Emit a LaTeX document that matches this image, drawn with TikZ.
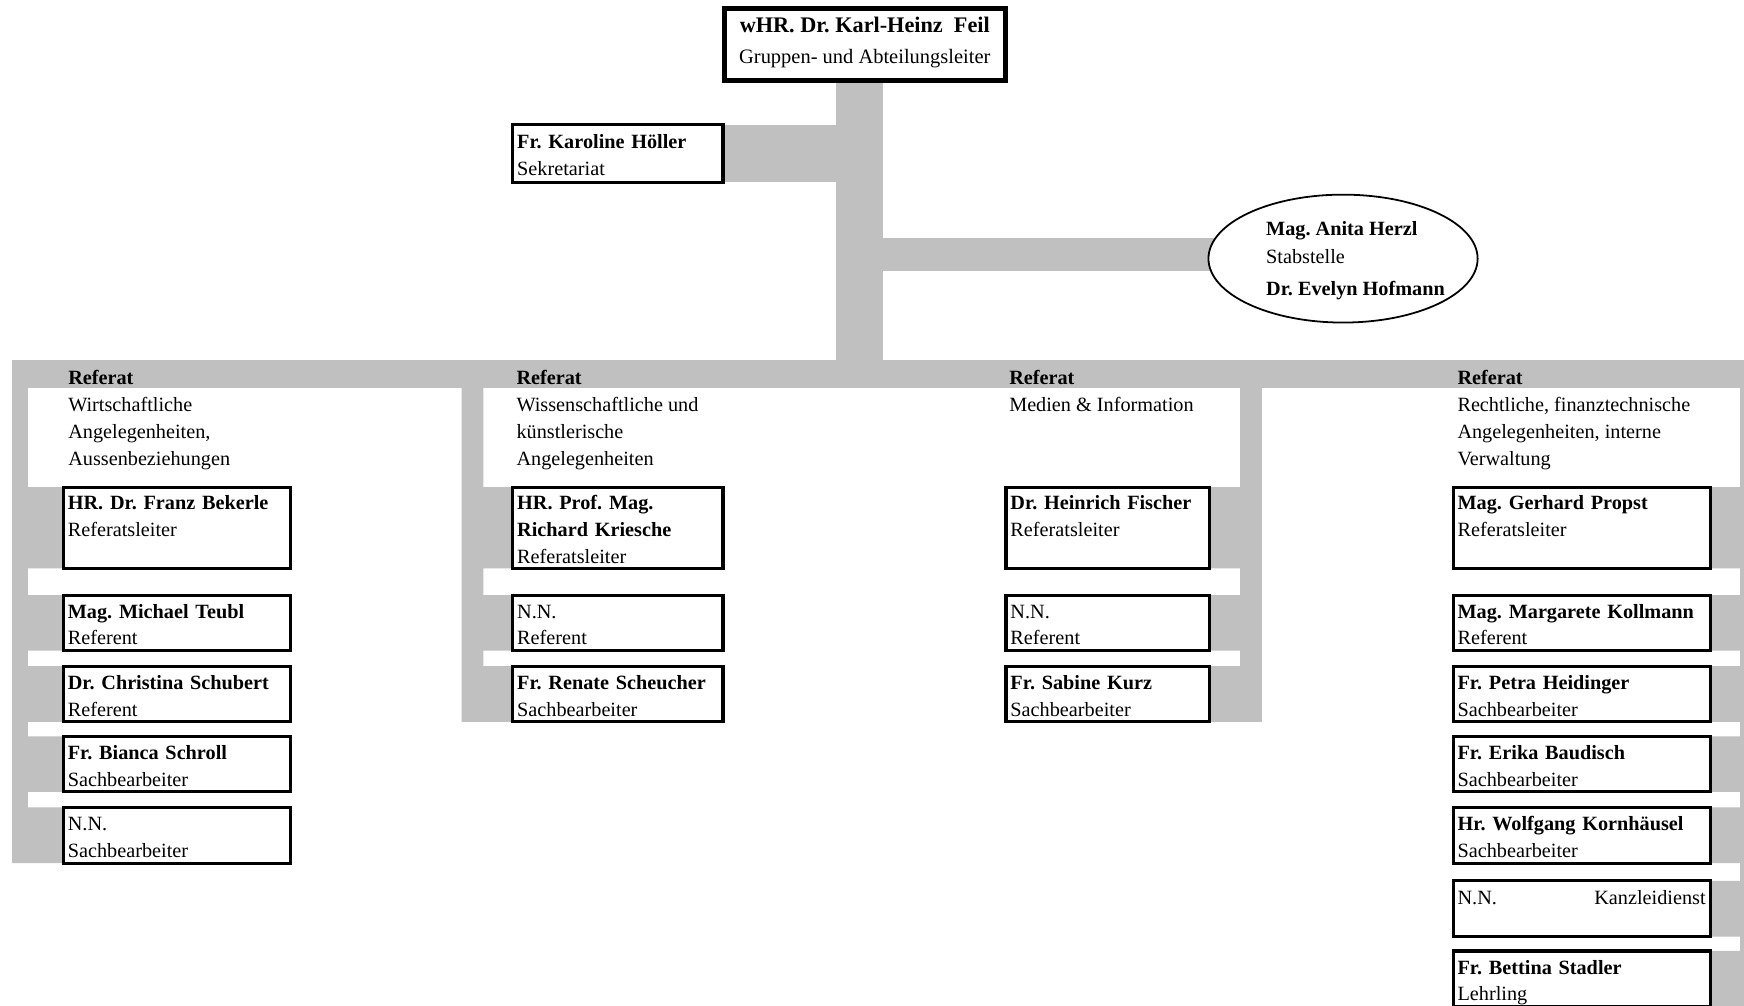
\documentclass[tikz,border=0pt]{standalone}
\usepackage{fontspec}
\setmainfont{Liberation Serif}
\usetikzlibrary{shapes.geometric,backgrounds}
\frenchspacing
\definecolor{bargray}{RGB}{192,192,192}
\newcommand{\topstrut}{\rule{0pt}{9.9pt}}
\newcommand{\botstrut}{\rule[-2.1pt]{0pt}{2.1pt}}
\newcommand{\who}[2]{\topstrut\textbf{#1}\\#2\botstrut}
\tikzset{
	wire/.style={fill=bargray},
	staff/.style={draw, line width=1.4pt, fill=white, anchor=north west, outer sep=0pt,
		inner xsep=2pt, inner ysep=0pt, minimum height=25pt, align=left,
		font=\fontsize{9.1}{12}\selectfont},
	tall/.style={minimum height=36.5pt},
	colA/.style={staff, text width=98pt},
	colB/.style={staff, text width=90.5pt},
	colC/.style={staff, text width=87.5pt},
	colD/.style={staff, text width=111.5pt},
	refhead/.style={anchor=north west, inner sep=0pt, align=left, font=\fontsize{9.1}{12}\selectfont}
}

\begin{document}
\begin{tikzpicture}[x=0.5pt, y=-0.5pt]
			\useasboundingbox (0,0) rectangle (1568,904);
			
			% Leitung, Sekretariat, Stabstelle
			\node[draw, line width=2.25pt, fill=white, anchor=north west, outer sep=0pt, inner xsep=0pt, inner ysep=1pt, minimum width=126.25pt, minimum height=32.75pt, align=center, font=\fontsize{9.2}{13.75}\selectfont] (boss) at (651.25,7.25) {\rule{0pt}{10.1pt}{\fontsize{10}{13.75}\selectfont\bfseries wHR. Dr. Karl-Heinz\ \ Feil}\\Gruppen- und Abteilungsleiter\rule[-6.9pt]{0pt}{6.9pt}};
			\node[colB, minimum height=26pt] (sek) at (461,112) {\who{Fr. Karoline Höller}{Sekretariat}};
			\node[draw, ellipse, line width=0.8pt, fill=white, minimum width=121pt, minimum height=57.5pt, inner sep=0pt] (stab) at (1207.5,232.5) {};
			\node[refhead, font=\fontsize{9.1}{12.75}\selectfont] (stabtext) at (1138,193.5) {\strut\textbf{Mag. Anita Herzl}\\Stabstelle\\[1.45pt]\textbf{Dr. Evelyn Hofmann}};
			
			% Referate
			\node[refhead] (refA) at (61,328.2) {\strut\textbf{Referat}\\[0.5pt]Wirtschaftliche\\Angelegenheiten,\\Aussenbeziehungen};
			\node[refhead] (refB) at (464,328.2) {\strut\textbf{Referat}\\[0.5pt]Wissenschaftliche und\\künstlerische\\Angelegenheiten};
			\node[refhead] (refC) at (907,328.2) {\strut\textbf{Referat}\\[0.5pt]Medien \& Information};
			\node[refhead] (refD) at (1310,328.2) {\strut\textbf{Referat}\\[0.5pt]Rechtliche, finanztechnische\\Angelegenheiten, interne\\Verwaltung};
			
			\node[colA, tall] (a1) at (57,438) {\who{HR. Dr. Franz Bekerle}{Referatsleiter}\\\botstrut};
			\node[colA] (a2) at (57,535) {\who{Mag. Michael Teubl}{Referent}};
			\node[colA] (a3) at (57,599) {\who{Dr. Christina Schubert}{Referent}};
			\node[colA] (a4) at (57,662) {\who{Fr. Bianca Schroll}{Sachbearbeiter}};
			\node[colA] (a5) at (57,726) {\topstrut N.N.\\Sachbearbeiter\botstrut};
			
			\node[colB, tall] (b1) at (461,438) {\topstrut\textbf{HR. Prof. Mag.}\\\textbf{Richard Kriesche}\\Referatsleiter\botstrut};
			\node[colB] (b2) at (461,535) {\topstrut N.N.\\Referent\botstrut};
			\node[colB] (b3) at (461,599) {\who{Fr. Renate Scheucher}{Sachbearbeiter}};
			
			\node[colC, tall] (c1) at (904.5,438) {\who{Dr. Heinrich Fischer}{Referatsleiter}\\\botstrut};
			\node[colC] (c2) at (904.5,535) {\topstrut N.N.\\Referent\botstrut};
			\node[colC] (c3) at (904.5,599) {\who{Fr. Sabine Kurz}{Sachbearbeiter}};
			
			\node[colD, tall] (d1) at (1306.5,438) {\who{Mag. Gerhard Propst}{Referatsleiter}\\\botstrut};
			\node[colD] (d2) at (1306.5,535) {\who{Mag. Margarete Kollmann}{Referent}};
			\node[colD] (d3) at (1306.5,599) {\who{Fr. Petra Heidinger}{Sachbearbeiter}};
			\node[colD] (d4) at (1306.5,662) {\who{Fr. Erika Baudisch}{Sachbearbeiter}};
			\node[colD] (d5) at (1306.5,726) {\who{Hr. Wolfgang Kornhäusel}{Sachbearbeiter}};
			\node[colD] (d6) at (1306.5,792) {\topstrut N.N.\hfill Kanzleidienst\\\botstrut};
			\node[colD] (d7) at (1306.5,855) {\who{Fr. Bettina Stadler}{Lehrling}};
			
			% graue Verbindungen
			\begin{scope}[on background layer]
				\fill[white] (0,0) rectangle (1568,904);
				\coordinate (trunk) at (752,323.5);
				\coordinate (trunkE) at (793.5,323.5);
				\coordinate (stabwire) at (793.5,214);
				\coordinate (busL) at (11,323.5);
				\coordinate (busR) at (1570,349);
				\coordinate (sA) at (11,349);
				\coordinate (sAe) at (25,349);
				\coordinate (sB) at (415,349);
				\coordinate (sBe) at (434.5,349);
				\coordinate (sC) at (1115,349);
				\coordinate (sCe) at (1134.5,349);
				\coordinate (sD) at (1564.5,349);
				\coordinate (sDe) at (1570,349);
				
				\fill[wire] (trunk |- boss.south) rectangle (trunkE);
				\fill[wire] (sek.north east) rectangle (trunk |- sek.south);
				\fill[wire] (stabwire) rectangle ([yshift=-5.75pt]stab.center);
				\fill[wire] (busL) rectangle (busR);
				
				\fill[wire] (sA) rectangle (sAe |- a5.south)
					(sA |- a1.north) rectangle (a1.south west)
					(sA |- a2.north) rectangle (a2.south west)
					(sA |- a3.north) rectangle (a3.south west)
					(sA |- a4.north) rectangle (a4.south west)
					(sA |- a5.north) rectangle (a5.south west);
				\fill[wire] (sB) rectangle (sBe |- b3.south)
					(sB |- b1.north) rectangle (b1.south west)
					(sB |- b2.north) rectangle (b2.south west)
					(sB |- b3.north) rectangle (b3.south west);
				\fill[wire] (sC) rectangle (sCe |- c3.south)
					(c1.north east) rectangle (sCe |- c1.south)
					(c2.north east) rectangle (sCe |- c2.south)
					(c3.north east) rectangle (sCe |- c3.south);
				\fill[wire] (sD) rectangle (sDe |- d7.south)
					(d1.north east) rectangle (sDe |- d1.south)
					(d2.north east) rectangle (sDe |- d2.south)
					(d3.north east) rectangle (sDe |- d3.south)
					(d4.north east) rectangle (sDe |- d4.south)
					(d5.north east) rectangle (sDe |- d5.south)
					(d6.north east) rectangle (sDe |- d6.south)
					(d7.north east) rectangle (sDe |- d7.south);
			\end{scope}
		\end{tikzpicture}
\end{document}
